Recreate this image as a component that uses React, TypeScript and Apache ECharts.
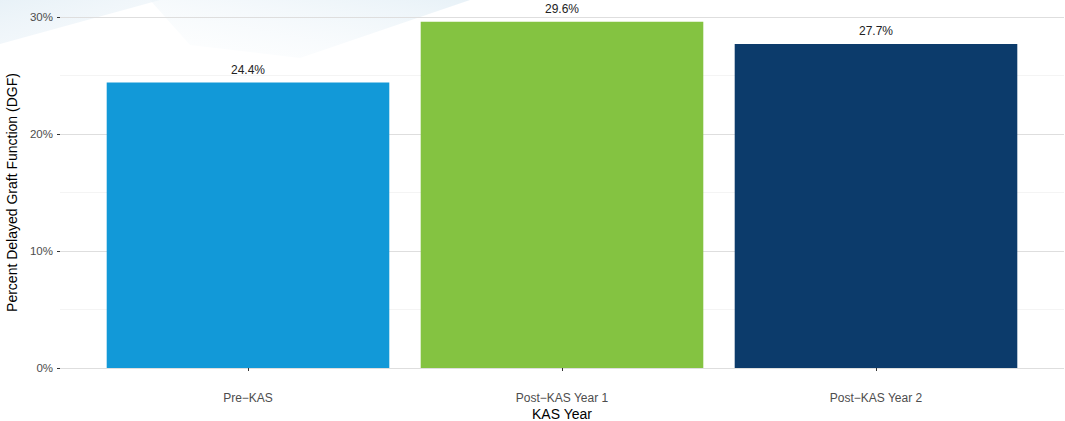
import React, { useEffect, useRef } from "react";
import * as echarts from "echarts";

const categories = ["Pre\u2212KAS", "Post\u2212KAS Year 1", "Post\u2212KAS Year 2"];
const values = [24.4, 29.6, 27.7];
const barColors = ["#1299D8", "#84C341", "#0C3B6B"];
const yMin = 0;
const yMax = 30;
const yStep = 10;

export default function App() {
  const ref = useRef<HTMLDivElement>(null);
  useEffect(() => {
    if (!ref.current) return;
    const chart = echarts.init(ref.current, undefined, { renderer: "svg" });
    const font = "'Liberation Sans', Arial, Helvetica, sans-serif";
    chart.setOption({
      animation: false,
      backgroundColor: "#ffffff",
      textStyle: { fontFamily: font },
      graphic: [
        {
          type: "polygon",
          z: -10,
          silent: true,
          shape: { points: [[0, 0], [160, 0], [0, 44]] },
          style: {
            fill: new echarts.graphic.LinearGradient(0, 0, 1, 1, [
              { offset: 0, color: "rgba(228,239,246,0.85)" },
              { offset: 1, color: "rgba(242,247,251,0.5)" },
            ]),
          },
        },
        {
          type: "polygon",
          z: -10,
          silent: true,
          shape: { points: [[150, 0], [470, 0], [300, 58], [190, 45]] },
          style: {
            fill: new echarts.graphic.LinearGradient(1, 0, 0, 1, [
              { offset: 0, color: "rgba(224,237,245,0.75)" },
              { offset: 1, color: "rgba(248,251,253,0.2)" },
            ]),
          },
        },
      ],
      grid: [
        { left: 60, right: 1, top: 17, bottom: 53, outerBoundsMode: "none" },
        { left: 91, right: 32, top: 17, bottom: 53, outerBoundsMode: "none" },
      ],
      xAxis: [
        {
          gridIndex: 0,
          type: "value",
          min: 0,
          max: 1,
          show: false,
        },
        {
          gridIndex: 1,
          type: "category",
          data: categories,
          offset: 17.5,
          name: "KAS Year",
          nameLocation: "middle",
          nameGap: 21,
          nameMoveOverlap: false,
          nameTextStyle: { fontSize: 14, color: "#000", fontFamily: font },
          axisLine: { show: false },
          axisTick: { show: true, alignWithLabel: true, length: 3, lineStyle: { color: "#333", width: 1 } },
          axisLabel: { fontSize: 12, color: "#4d4d4d", margin: 6, fontFamily: font },
          splitLine: { show: false },
        },
      ],
      yAxis: [
        {
          gridIndex: 0,
          type: "value",
          min: yMin,
          max: yMax,
          interval: yStep,
          name: "Percent Delayed Graft Function (DGF)",
          nameLocation: "middle",
          nameGap: 37,
          nameTextStyle: { fontSize: 14, color: "#000", fontFamily: font },
          axisLine: { show: false },
          axisTick: { show: true, length: 3, lineStyle: { color: "#333", width: 1 } },
          axisLabel: { fontSize: 11.5, color: "#4d4d4d", margin: 7, formatter: "{value}%", fontFamily: font },
          splitLine: { show: true, lineStyle: { color: "#dedede", width: 1.1 } },
          minorTick: { show: false, splitNumber: 2 },
          minorSplitLine: { show: true, lineStyle: { color: "#f1f1f1", width: 0.8 } },
        },
        {
          gridIndex: 1,
          type: "value",
          min: yMin,
          max: yMax,
          interval: yStep,
          show: false,
          splitLine: { show: false },
        },
      ],
      series: [
        {
          type: "bar",
          xAxisIndex: 1,
          yAxisIndex: 1,
          barCategoryGap: "10%",
          data: values.map((v, i) => ({ value: v, itemStyle: { color: barColors[i] } })),
          label: {
            show: true,
            position: "top",
            distance: 7,
            fontSize: 12,
            color: "#222",
            fontFamily: font,
            formatter: (p: any) => p.value.toFixed(1) + "%",
          },
          z: 2,
        },
      ],
    });
    return () => chart.dispose();
  }, []);
  return (
    <div
      ref={ref}
      style={{ position: "absolute", left: 0, top: 0, width: 1065, height: 421 }}
    />
  );
}
